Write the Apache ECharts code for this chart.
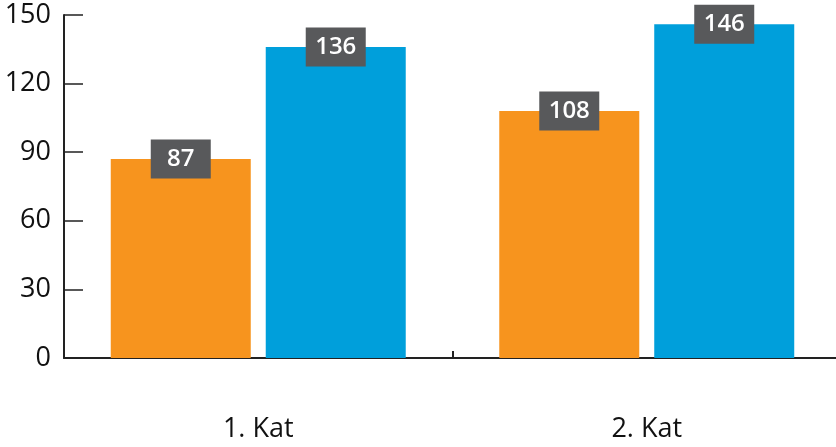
<!DOCTYPE html>
<html>
<head>
<meta charset="utf-8">
<script src="https://cdn.jsdelivr.net/npm/echarts@6/dist/echarts.min.js"></script>
<style>html,body{margin:0;padding:0;background:#fff}#c{width:836px;height:447px}</style>
</head>
<body>
<div id="c"></div>
<script>
const categories = ['1. Kat', '2. Kat'];
const seriesOrange = [87, 108];
const seriesBlue = [136, 146];
const yTicks = { min: 0, max: 150, interval: 30 };

const labelStyle = {
  show: true,
  position: ['50%', 0],
  align: 'center',
  verticalAlign: 'middle',
  backgroundColor: '#58595B',
  color: '#fff',
  fontFamily: 'Open Sans',
  fontWeight: 600,
  fontSize: 24,
  width: 40,
  height: 28,
  lineHeight: 28,
  padding: [6, 10, 5, 10]
};

const chart = echarts.init(document.getElementById('c'), null, { renderer: 'canvas' });
chart.setOption({
  animation: false,
  grid: { left: 64, width: 777, top: 15, bottom: 89, containLabel: false, outerBoundsMode: 'none' },
  xAxis: {
    type: 'category',
    data: categories,
    axisLine: { show: true, lineStyle: { color: '#222', width: 2 } },
    axisTick: { show: true, inside: true, length: 7, lineStyle: { color: '#222', width: 2 } },
    axisLabel: { fontFamily: 'Open Sans', fontSize: 27, color: '#111', margin: 58 }
  },
  yAxis: {
    type: 'value',
    min: yTicks.min, max: yTicks.max, interval: yTicks.interval,
    axisLine: { show: true, lineStyle: { color: '#222', width: 2 } },
    axisTick: { show: true, inside: true, length: 19, lineStyle: { color: '#222', width: 1.5 } },
    splitLine: { show: false },
    axisLabel: { fontFamily: 'Open Sans', fontSize: 27, color: '#111', margin: 13 }
  },
  series: [
    {
      type: 'bar', data: seriesOrange, barWidth: 140, barGap: '10.7%',
      itemStyle: { color: '#F7941E' }, label: labelStyle, z: 2
    },
    {
      type: 'bar', data: seriesBlue, barWidth: 140, barGap: '10.7%',
      itemStyle: { color: '#009FDB' }, label: labelStyle, z: 2
    }
  ]
});
</script>
</body>
</html>
